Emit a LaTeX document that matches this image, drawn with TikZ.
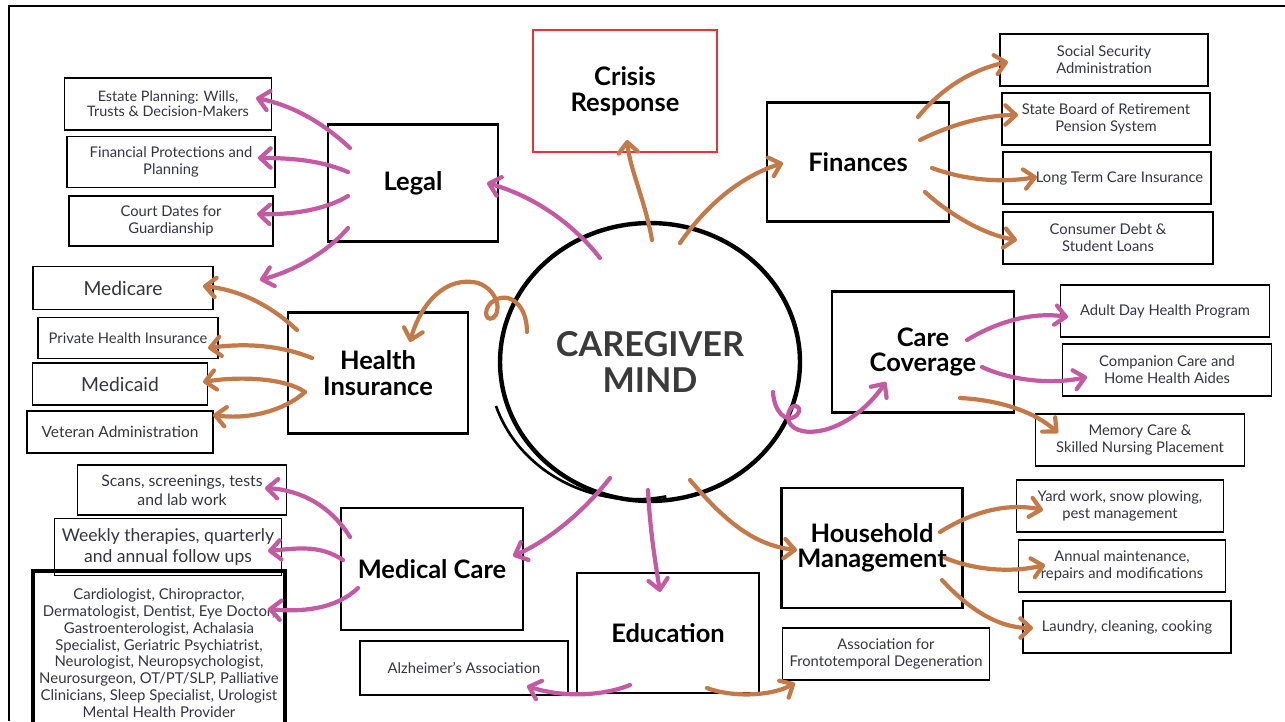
\documentclass[tikz,border=0pt]{standalone}
\usepackage{fontspec}
\setmainfont{Lato}
\usetikzlibrary{arrows.meta,shapes.geometric}
\definecolor{mindpink}{HTML}{C45AA2}
\definecolor{mindbrown}{HTML}{C47A48}
\definecolor{crisisred}{HTML}{E8333B}
\definecolor{leafink}{HTML}{34343F}
\definecolor{mindgray}{HTML}{3A3A3A}
\begin{document}
\begin{tikzpicture}[x=0.02cm, y=-0.02cm,
                    hub/.style={draw, line width=1.3pt, minimum width=3.64cm, minimum height=2.4cm,
                                align=center, font=\fontsize{14.5}{14.5}\selectfont\bfseries},
                    leaf/.style={draw, line width=1.1pt, minimum width=4.16cm, minimum height=1.04cm,
                                 inner sep=1pt, align=center, text=leafink,
                                 font=\fontsize{8.4}{9.6}\selectfont},
                    pinkarrow/.style={mindpink, line width=2.4pt, line cap=round,
                                      -{Straight Barb[length=6pt,width=11pt,round]}},
                    brownarrow/.style={mindbrown, line width=2.4pt, line cap=round,
                                       -{Straight Barb[length=6pt,width=11pt,round]}}]
\useasboundingbox (0,0) rectangle (1285,721);
\draw[line width=1.7pt] (9,721) -- (9,6) -- (1285,6); % frame

% centre
\node[ellipse, draw, line width=2.5pt, minimum width=6cm, minimum height=5.56cm, inner sep=0pt,
      align=center, font=\fontsize{19.5}{20}\selectfont\bfseries, text=mindgray]
      (mind) at (650,362) {CAREGIVER\\MIND};
\draw[line width=1.5pt] ([shift={(-154,44)}]mind.center)
      arc[start angle=198, end angle=282, x radius=2.94cm, y radius=2.7cm];

% main topics
\node[hub, draw=crisisred, minimum width=3.68cm, minimum height=2.44cm] (crisis) at (625,91) {Crisis\\Response};
\node[hub, minimum width=3.4cm, minimum height=2.34cm] (legal) at (413,183) {Legal};
\node[hub, minimum height=2.38cm] (finances) at (858,162) {Finances};
\node[hub, minimum width=3.6cm, minimum height=2.42cm] (health) at (378,373) {Health\\Insurance};
\node[hub, minimum height=2.42cm] (care) at (923,352) {Care\\Coverage};
\node[hub, minimum height=2.44cm] (medical) at (432,569) {Medical Care};
\node[hub] (education) at (668,633) {Education};
\node[hub, minimum width=3.62cm] (household) at (872,548) {Household\\Management};

% legal
\node[leaf, minimum width=4.14cm, font=\fontsize{8.2}{8.8}\selectfont] (estate) at (168,104) {Estate Planning: Wills,\\Trusts \& Decision-Makers};
\node[leaf, minimum height=1.02cm] (protections) at (171,162) {Financial Protections and\\Planning};
\node[leaf, minimum width=4.08cm, minimum height=1cm] (court) at (171,221) {Court Dates for\\Guardianship};
\coordinate (legaltip) at (260,280);

% health insurance
\node[leaf, minimum width=3.6cm, minimum height=0.86cm, font=\fontsize{11}{12}\selectfont] (medicare) at (123,288) {Medicare};
\node[leaf, minimum width=3.6cm, minimum height=0.82cm, font=\fontsize{8.4}{9.6}\selectfont] (private) at (128,338) {Private Health Insurance};
\node[leaf, minimum width=3.5cm, minimum height=0.84cm, font=\fontsize{11}{12}\selectfont] (medicaid) at (120,384) {Medicaid};
\node[leaf, minimum width=3.72cm, minimum height=0.84cm, font=\fontsize{8.8}{9.6}\selectfont] (veteran) at (120,432) {Veteran Administration};

% medical care
\node[leaf, minimum width=4.18cm, minimum height=1cm, font=\fontsize{9}{10.8}\selectfont] (scans) at (182,490) {Scans, screenings, tests\\and lab work};
\node[leaf, minimum width=4.54cm, minimum height=1.14cm, font=\fontsize{10}{12.2}\selectfont] (weekly) at (168,547) {Weekly therapies, quarterly\\and annual follow ups};
\node[leaf, line width=2pt, minimum width=5.04cm, minimum height=3.28cm, font=\fontsize{8.5}{9.6}\selectfont] (specialists) at (159,653)
     {Cardiologist, Chiropractor,\\Dermatologist, Dentist, Eye Doctor,\\Gastroenterologist, Achalasia\\Specialist, Geriatric Psychiatrist,\\Neurologist, Neuropsychologist,\\Neurosurgeon, OT/PT/SLP, Palliative\\Clinicians, Sleep Specialist, Urologist\\Mental Health Provider};

% education
\node[leaf, minimum height=1.08cm] (alzheimer) at (464,668) {Alzheimer's Association};
\node[leaf, minimum width=4.14cm] (aftd) at (886,654) {Association for\\Frontotemporal Degeneration};

% finances
\node[leaf] (social) at (1104,60) {Social Security\\Administration};
\node[leaf] (stateboard) at (1106,119) {State Board of Retirement\\Pension System};
\node[leaf] (longterm) at (1107,178) {\hspace*{0.5cm}Long Term Care Insurance};
\node[leaf, minimum width=4.2cm] (consumer) at (1108,238) {Consumer Debt \&\\Student Loans};

% care coverage
\node[leaf, minimum width=4.18cm] (adultday) at (1165,311) {Adult Day Health Program};
\node[leaf, minimum width=4.18cm] (companion) at (1167,370) {Companion Care and\\Home Health Aides};
\node[leaf, minimum width=4.18cm] (memory) at (1140,440) {Memory Care \&\\Skilled Nursing Placement};

% household
\node[leaf, minimum width=4.14cm] (yard) at (1120,506) {Yard work, snow plowing,\\pest management};
\node[leaf, minimum width=4.14cm] (annual) at (1122,566) {Annual maintenance,\\repairs and modifications};
\node[leaf, minimum width=4.16cm] (laundry) at (1127,627) {Laundry, cleaning, cooking};

% from the mind
\draw[pinkarrow] ([shift={(-50,-104)}]mind.center) .. controls +(-30,-38) and +(43,12) .. ([shift={(74,0)}]legal.center);
\draw[brownarrow] ([shift={(2,-122)}]mind.center) .. controls +(-7,-40) and +(3,30) .. ([shift={(2,49)}]crisis.center);
\draw[brownarrow] ([shift={(30,-119)}]mind.center) .. controls +(30,-43) and +(-38,12) .. ([shift={(-75,1)}]finances.center);
\draw[brownarrow] ([shift={(-123,-30)}]mind.center)
      .. controls +(0,-27) and +(15,-8) .. ([shift={(-155,-62)}]mind.center)
      .. controls +(-12,6) and +(-9,4) .. ([shift={(-157,-44)}]mind.center)
      .. controls +(9,-6) and +(20,7) .. ([shift={(-172,-79)}]mind.center)
      .. controls +(-33,-8) and +(10,-37) .. ([shift={(32,-31)}]health.center);
\draw[pinkarrow] ([shift={(123,30)}]mind.center)
      .. controls +(1,18) and +(-12,10) .. ([shift={(147,53)}]mind.center)
      .. controls +(8,-10) and +(0,-18) .. ([shift={(138,56)}]mind.center)
      .. controls +(2,22) and +(-41,58) .. ([shift={(-37,30)}]care.center);
\draw[brownarrow] ([shift={(40,118)}]mind.center) .. controls +(30,35) and +(-47,-5) .. ([shift={(-75,2)}]household.center);
\draw[pinkarrow] ([shift={(-2,128)}]mind.center) .. controls +(2,40) and +(-5,-32) .. ([shift={(-8,-41)}]education.center);
\draw[pinkarrow] ([shift={(-40,116)}]mind.center) .. controls +(-25,32) and +(37,-16) .. ([shift={(81,-13)}]medical.center);

% legal branches
\draw[pinkarrow] ([shift={(-63,-35)}]legal.center) .. controls +(-30,-28) and +(34,7) .. ([shift={(88,-6)}]estate.center);
\draw[pinkarrow] ([shift={(-65,-11)}]legal.center) .. controls +(-28,-12) and +(32,0) .. ([shift={(87,-4)}]protections.center);
\draw[pinkarrow] ([shift={(-65,13)}]legal.center) .. controls +(-23,14) and +(33,1) .. ([shift={(86,-7)}]court.center);
\draw[pinkarrow] ([shift={(-65,45)}]legal.center) .. controls +(-23,27) and +(30,-8) .. (legaltip);

% health insurance branches
\draw[brownarrow] ([shift={(-81,-43)}]health.center) .. controls +(-27,-25) and +(37,4) .. ([shift={(80,-2)}]medicare.center);
\draw[brownarrow] ([shift={(-66,-15)}]health.center) .. controls +(-32,-13) and +(37,-5) .. ([shift={(80,10)}]private.center);
\draw[brownarrow] ([shift={(-73,19)}]health.center) .. controls +(-20,-14) and +(37,-6) .. ([shift={(83,-2)}]medicaid.center);
\draw[brownarrow] ([shift={(-73,19)}]health.center) .. controls +(-20,18) and +(37,5) .. ([shift={(93,-17)}]veteran.center);

% medical care branches
\draw[pinkarrow] ([shift={(-82,-32)}]medical.center) .. controls +(-20,-32) and +(35,2) .. ([shift={(83,-2)}]scans.center);
\draw[pinkarrow] ([shift={(-89,-9)}]medical.center) .. controls +(-23,-15) and +(32,-3) .. ([shift={(100,4)}]weekly.center);
\draw[pinkarrow] ([shift={(-74,19)}]medical.center) .. controls +(-23,22) and +(32,3) .. ([shift={(109,-44)}]specialists.center);

% education branches
\draw[pinkarrow] ([shift={(-38,52)}]education.center) .. controls +(-30,12) and +(33,11) .. ([shift={(63,18)}]alzheimer.center);
\draw[brownarrow] ([shift={(39,55)}]education.center) .. controls +(23,9) and +(-25,14) .. ([shift={(-91,29)}]aftd.center);

% finances branches
\draw[brownarrow] ([shift={(60,-45)}]finances.center) .. controls +(22,-27) and +(-38,8) .. ([shift={(-96,2)}]social.center);
\draw[brownarrow] ([shift={(62,-22)}]finances.center) .. controls +(30,-15) and +(-33,0) .. ([shift={(-88,-4)}]stateboard.center);
\draw[brownarrow] ([shift={(74,6)}]finances.center) .. controls +(33,12) and +(-37,6) .. ([shift={(-70,-1)}]longterm.center);
\draw[brownarrow] ([shift={(67,30)}]finances.center) .. controls +(25,23) and +(-32,-5) .. ([shift={(-91,2)}]consumer.center);

% care coverage branches
\draw[pinkarrow] ([shift={(44,-12)}]care.center) .. controls +(33,-20) and +(-33,-5) .. ([shift={(-97,6)}]adultday.center);
\draw[pinkarrow] ([shift={(59,15)}]care.center) .. controls +(28,13) and +(-37,8) .. ([shift={(-80,7)}]companion.center);
\draw[brownarrow] ([shift={(37,46)}]care.center) .. controls +(40,2) and +(-23,-21) .. ([shift={(-82,-7)}]memory.center);

% household branches
\draw[brownarrow] ([shift={(68,-16)}]household.center) .. controls +(35,-22) and +(-33,-7) .. ([shift={(-77,4)}]yard.center);
\draw[brownarrow] ([shift={(73,10)}]household.center) .. controls +(30,12) and +(-35,8) .. ([shift={(-77,-1)}]annual.center);
\draw[brownarrow] ([shift={(70,32)}]household.center) .. controls +(23,25) and +(-38,0) .. ([shift={(-94,1)}]laundry.center);
\end{tikzpicture}
\end{document}
